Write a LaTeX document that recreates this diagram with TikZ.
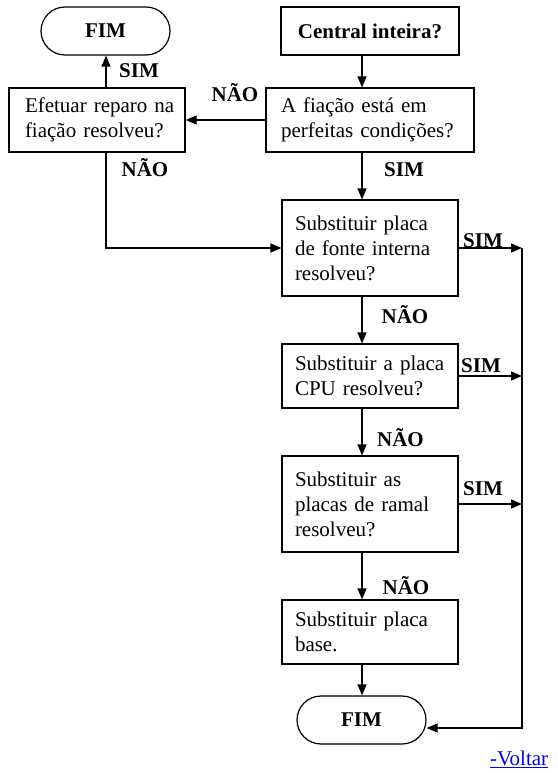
\documentclass[tikz,border=0pt]{standalone}
\usepackage{fontspec}
\setmainfont{Liberation Serif}
\usetikzlibrary{arrows.meta}
\definecolor{linkblue}{RGB}{0,0,238}
\begin{document}
\begin{tikzpicture}[x=1pt,y=1pt,
  every node/.style={font=\fontsize{21}{25}\selectfont},
  box/.style={draw, line width=1.2pt, inner sep=0pt, align=left},
  term/.style={draw, line width=1.2pt, rounded corners=24pt, minimum width=129pt, minimum height=48pt, inner sep=0pt, font=\fontsize{21}{25}\selectfont\bfseries},
  lbl/.style={font=\fontsize{21}{25}\selectfont\bfseries, inner sep=0pt, anchor=base},
  arr/.style={line width=1.2pt, -{Triangle[length=11pt,width=9pt]}},
  ln/.style={line width=1.2pt}]
\useasboundingbox (0,0) rectangle (557,-773);
\fill[white] (0,0) rectangle (557,-773);

% nodes
\node[term] (fim1) at (105.5,-31) {FIM};
\node[box, minimum width=178pt, minimum height=48pt, align=center, font=\fontsize{21}{25}\selectfont\bfseries] (central) at (370,-31) {Central inteira?};
\node[box, minimum width=176pt, minimum height=64pt, text width=144pt] (efetuar) at (97,-120) {\mbox{Efetuar reparo na}\\\mbox{fiação resolveu?}};
\node[box, minimum width=208pt, minimum height=64pt, text width=178pt] (fiacao) at (370,-120) {\mbox{A fiação está em}\\\mbox{perfeitas condições?}};
\node[box, minimum width=176pt, minimum height=96pt, text width=150pt] (fonte) at (370,-248) {\mbox{Substituir placa}\\\mbox{de fonte interna}\\\mbox{resolveu?}};
\node[box, minimum width=176pt, minimum height=64pt, text width=150pt] (cpu) at (370,-376) {\mbox{Substituir a placa}\\\mbox{CPU resolveu?}};
\node[box, minimum width=176pt, minimum height=96pt, text width=150pt] (ramal) at (370,-504) {\mbox{Substituir as}\\\mbox{placas de ramal}\\\mbox{resolveu?}};
\node[box, minimum width=176pt, minimum height=64pt, text width=150pt] (base) at (370,-632) {\mbox{Substituir placa}\\\mbox{base.}};
\node[term] (fim2) at (361.5,-720) {FIM};

% guide coordinates
\coordinate (sp) at (362,0);
\coordinate (lc) at (106,0);
\coordinate (rs) at (522,0);
\coordinate (fimin) at ([yshift=-8pt]fim2.east);

% connectors
\draw[arr] (central.south -| sp) -- (fiacao.north -| sp);
\draw[arr] (fiacao.west) -- (efetuar.east);
\draw[arr] (efetuar.north -| lc) -- (fim1.south -| lc);
\draw[arr] (efetuar.south -| lc) |- (fonte.west);
\draw[arr] (fiacao.south -| sp) -- (fonte.north -| sp);
\draw[arr] (fonte.south -| sp) -- (cpu.north -| sp);
\draw[arr] (cpu.south -| sp) -- (ramal.north -| sp);
\draw[arr] (ramal.south -| sp) -- (base.north -| sp);
\draw[arr] (base.south -| sp) -- (fim2.north -| sp);
\draw[arr] (fonte.east) -- (fonte.east -| rs);
\draw[arr] (cpu.east) -- (cpu.east -| rs);
\draw[arr] (ramal.east) -- (ramal.east -| rs);
\draw[arr] (fonte.east -| rs) |- (fimin);

% labels
\node[lbl] (l1) at (139,-78) {SIM};
\node[lbl] (l2) at (235,-102) {NÃO};
\node[lbl] (l3) at (145,-176) {NÃO};
\node[lbl] (l4) at (404,-176) {SIM};
\node[lbl] (l5) at (483,-247) {SIM};
\node[lbl] (l6) at (405,-323) {NÃO};
\node[lbl] (l7) at (481,-372) {SIM};
\node[lbl] (l8) at (400.5,-446) {NÃO};
\node[lbl] (l9) at (483,-495) {SIM};
\node[lbl] (l10) at (406,-594) {NÃO};
\node[inner sep=0pt, anchor=base west, text=linkblue] (voltar) at (490,-765) {\underline{-Voltar}};
\end{tikzpicture}
\end{document}
